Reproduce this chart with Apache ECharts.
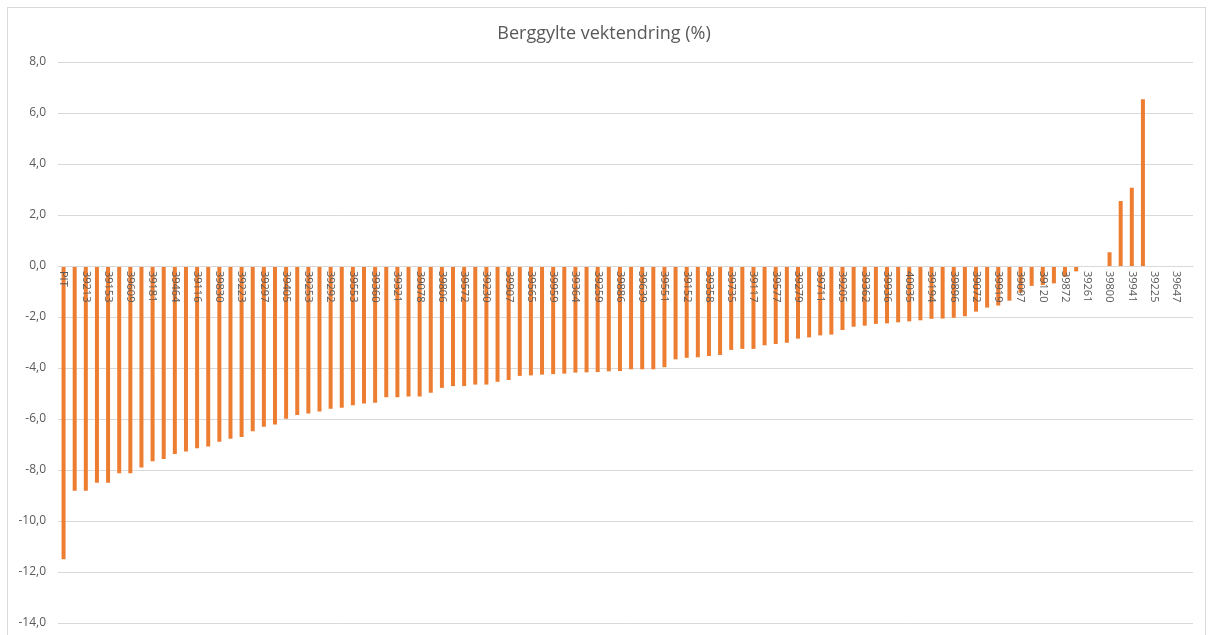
<!DOCTYPE html>
<html>
<head>
<meta charset="utf-8">
<script src="https://cdn.jsdelivr.net/npm/echarts@6/dist/echarts.min.js"></script>
<style>
  html, body { margin: 0; padding: 0; background: #fff; }
  #frame { position: absolute; left: 7px; top: 7px; width: 1199px; height: 640px; border: 1px solid #d9d9d9; box-sizing: border-box; }
  #chart { position: absolute; left: 0; top: 0; width: 1208px; height: 635px; }
</style>
</head>
<body>
<div id="frame"></div>
<div id="chart"></div>
<script>
// Labelled categories (every other category has a visible label)
const shownLabels = ["PIT","39213","39153","39609","39181","39464","39116","39830","39223","39297",
  "39405","39253","39292","39553","39360","39321","39078","39806","39572","39230",
  "39907","39565","39959","39364","39259","39886","39639","39551","39152","39358",
  "39735","39117","39577","39279","39711","39205","39362","39936","40035","39194",
  "39896","39072","39919","39097","39120","39872","39261","39800","39941","39225","39647"];

// Values (weight change, %) per category
const values = [
  -11.5, -8.81, -8.81, -8.5, -8.5, -8.13, -8.13, -7.9, -7.66, -7.57,
  -7.37, -7.27, -7.15, -7.08, -6.89, -6.77, -6.71, -6.48, -6.3, -6.22,
  -5.99, -5.84, -5.78, -5.71, -5.6, -5.56, -5.46, -5.39, -5.36, -5.15,
  -5.15, -5.12, -5.12, -4.97, -4.78, -4.71, -4.71, -4.65, -4.65, -4.54,
  -4.47, -4.31, -4.29, -4.26, -4.24, -4.22, -4.18, -4.17, -4.16, -4.13,
  -4.12, -4.05, -4.05, -4.05, -3.97, -3.66, -3.6, -3.58, -3.53, -3.49,
  -3.29, -3.25, -3.25, -3.11, -3.06, -3.01, -2.85, -2.8, -2.72, -2.69,
  -2.51, -2.38, -2.34, -2.27, -2.25, -2.21, -2.17, -2.13, -2.07, -2.06,
  -2.03, -1.97, -1.79, -1.63, -1.55, -1.36, -1.05, -0.78, -0.75, -0.68,
  -0.42, -0.21, 0, 0, 0.54, 2.55, 3.07, 6.54, 0, 0,
  0, 0
];

// Category list: labelled ones at even positions, unreadable ones blank
const categories = values.map((v, i) => (i % 2 === 0 ? (shownLabels[i / 2] || '') : ''));

const yMin = -14, yMax = 8, yStep = 2;

const H = 635, gridTop = 62, gridBottom = 12;
const gridHeight = H - gridTop - gridBottom;
// move the category axis up to the value 0
const zeroOffset = -Math.round((0 - yMin) / (yMax - yMin) * gridHeight);

const chart = echarts.init(document.getElementById('chart'), null, { renderer: 'canvas' });
chart.setOption({
  animation: false,
  backgroundColor: 'transparent',
  title: {
    text: 'Berggylte vektendring (%)',
    left: 'center',
    top: 20,
    textStyle: { color: '#595959', fontSize: 18, fontWeight: 'normal', fontFamily: 'Open Sans' }
  },
  grid: { left: 58, right: 15, top: gridTop, bottom: gridBottom, containLabel: false },
  xAxis: {
    type: 'category',
    data: categories,
    z: 10,
    offset: zeroOffset,
    axisLine: { onZero: false, lineStyle: { color: '#d9d9d9', width: 1 } },
    axisTick: { show: false },
    axisLabel: {
      interval: 1,
      rotate: -90,
      color: '#595959',
      fontSize: 11,
      fontFamily: 'Open Sans',
      margin: 5
    }
  },
  yAxis: {
    type: 'value',
    min: yMin,
    max: yMax,
    interval: yStep,
    axisLine: { show: false },
    axisTick: { show: false },
    splitLine: { lineStyle: { color: '#d9d9d9', width: 1 } },
    axisLabel: {
      color: '#595959',
      fontSize: 12,
      fontFamily: 'Open Sans',
      margin: 12,
      formatter: v => v.toFixed(1).replace('.', ',')
    }
  },
  series: [{
    type: 'bar',
    data: values,
    barWidth: 4,
    itemStyle: { color: '#ED7D31' }
  }]
});
</script>
</body>
</html>
